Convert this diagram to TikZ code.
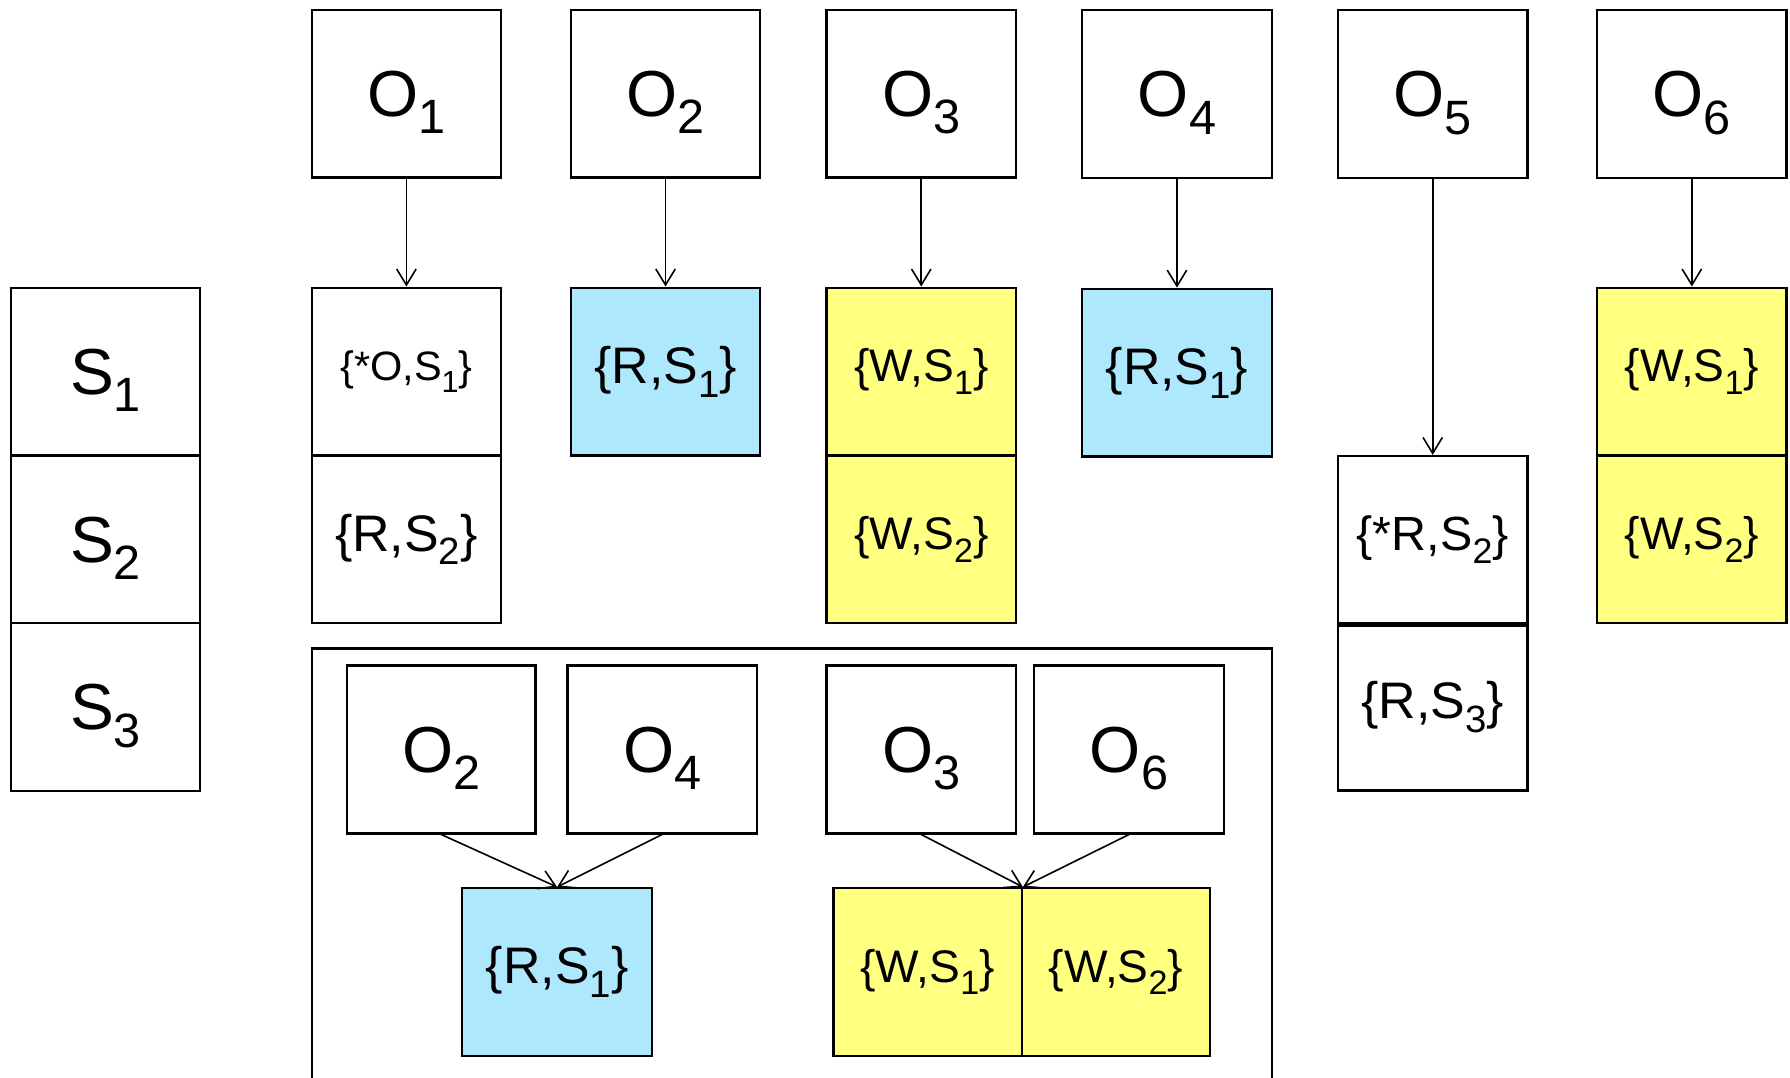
\documentclass[tikz,border=0pt]{standalone}
\usepackage{fontspec}
\setmainfont{Liberation Sans}[FakeStretch=1.01]
\usetikzlibrary{arrows.meta}

\definecolor{rdblue}{RGB}{173,232,252}
\definecolor{wryellow}{RGB}{255,255,128}

% lowered, reduced index after a letter
\newcommand\lsub[1]{\raisebox{-0.27em}{\scalebox{0.74}{#1}}}

\tikzset{
  cell/.style={draw=black, line width=2pt, inner sep=0pt,
    minimum width=166pt, minimum height=147pt,
    font=\fontsize{45}{48}\selectfont},
  objcell/.style={cell, font=\fontsize{57}{60}\selectfont, text depth=0pt},
  rdcell/.style={cell, fill=rdblue},
  wrcell/.style={cell, fill=wryellow, font=\fontsize{40}{44}\selectfont},
  smallcell/.style={cell, font=\fontsize{36}{40}\selectfont},
  starcell/.style={cell, font=\fontsize{42}{45}\selectfont},
  link/.style={-{Straight Barb[length=14pt,width=17pt]}, line width=1.4pt},
  frame/.style={draw=black, line width=2pt},
}

\begin{document}
\begin{tikzpicture}[x=1pt, y=-1pt]
\useasboundingbox (0,0) rectangle (1568,944);
\fill[white] (0,0) rectangle (1568,944);

% subject column
\node[objcell] (s1) at (92.5,325.5) {S\lsub{1}};
\node[objcell] (s2) at (92.5,472.5) {S\lsub{2}};
\node[objcell] (s3) at (92.5,619.5) {S\lsub{3}};

% objects
\node[objcell] (o1) at (356,82)  {O\lsub{1}};
\node[objcell] (o2) at (583,82)  {O\lsub{2}};
\node[objcell] (o3) at (807,82)  {O\lsub{3}};
\node[objcell] (o4) at (1031,82.5) {O\lsub{4}};
\node[objcell] (o5) at (1255,82.5) {O\lsub{5}};
\node[objcell] (o6) at (1482,82.5) {O\lsub{6}};

% access lists
\node[smallcell] (a1) at (356,325.5) {\{*O,S\lsub{1}\}};
\node[cell]      (b1) at (356,472.5) {\{R,S\lsub{2}\}};
\node[rdcell]    (a2) at (583,325.5) {\{R,S\lsub{1}\}};
\node[wrcell]    (a3) at (807,325.5) {\{W,S\lsub{1}\}};
\node[wrcell]    (b3) at (807,472.5) {\{W,S\lsub{2}\}};
\node[rdcell]    (a4) at (1031,326.5) {\{R,S\lsub{1}\}};
\node[starcell]  (a5) at (1255,473) {\{*R,S\lsub{2}\}};
\node[cell]      (b5) at (1255,619) {\{R,S\lsub{3}\}};
\node[wrcell]    (a6) at (1482,325.5) {\{W,S\lsub{1}\}};
\node[wrcell]    (b6) at (1482,472.5) {\{W,S\lsub{2}\}};
\draw[line width=3.5pt] (a5.south west) -- (a5.south east);

\foreach \o/\a in {o1/a1, o2/a2, o3/a3, o4/a4, o5/a5, o6/a6}
  \draw[link] (\o.south) -- (\a.north);

% shared lists
\coordinate (fl) at (273,944);
\coordinate (fr) at (1114,944);
\draw[frame] (fl) -- (273,568) -- (1114,568) -- (fr);

\node[objcell, minimum width=165pt] (p2) at (386.5,656.5) {O\lsub{2}};
\node[objcell] (p4) at (580,656.5) {O\lsub{4}};
\node[objcell] (p3) at (807,656.5) {O\lsub{3}};
\node[objcell] (p6) at (989,656.5) {O\lsub{6}};

\node[rdcell] (shr) at (488,851.5) {\{R,S\lsub{1}\}};
\node[wrcell, minimum width=165pt] (shw1) at (812.5,851.5) {\{W,S\lsub{1}\}};
\node[wrcell, minimum width=165pt] (shw2) at (977.5,851.5) {\{W,S\lsub{2}\}};
\coordinate (shwtop) at (shw1.north east);

\draw[link] (p2.south) -- (shr.north);
\draw[link] (p4.south) -- (shr.north);
\draw[link] (p3.south) -- (shwtop);
\draw[link] (p6.south) -- (shwtop);
\end{tikzpicture}
\end{document}
